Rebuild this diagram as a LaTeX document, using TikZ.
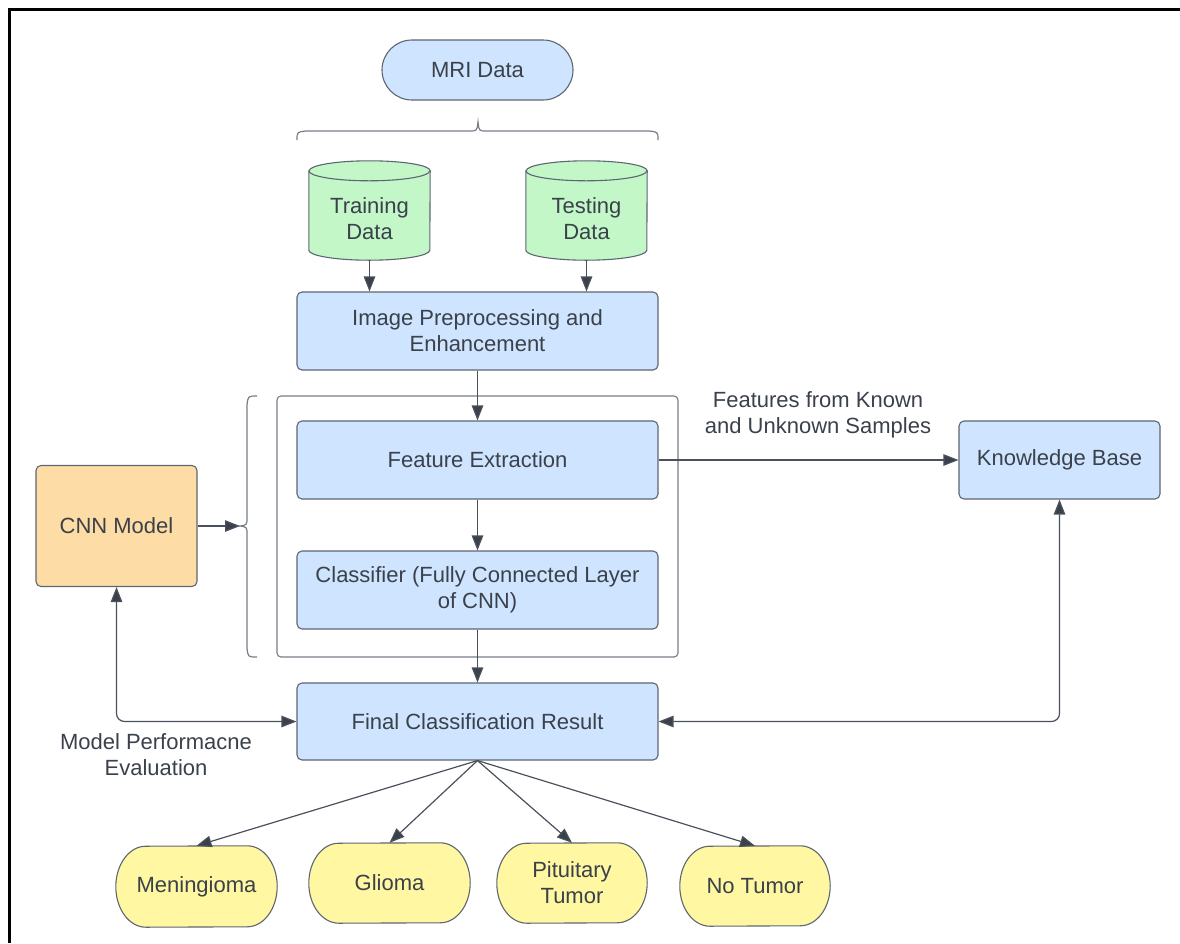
\documentclass[tikz,border=0pt]{standalone}
\usepackage{fontspec}
\setmainfont{Liberation Sans}
\usetikzlibrary{arrows.meta,backgrounds,calc}
\definecolor{txt}{HTML}{3A414A}
\definecolor{bord}{HTML}{5E6672}
\definecolor{lineC}{HTML}{4A515C}
\definecolor{contC}{HTML}{767D87}
\definecolor{lblue}{HTML}{CFE4FF}
\definecolor{lgreen}{HTML}{C3F7C8}
\definecolor{lyellow}{HTML}{FFF7A1}
\definecolor{lorange}{HTML}{FDDCA5}
\newcommand\capshape[2]{%
  \path[draw=bord, fill=lyellow, line width=1.1pt]
    ($(#1.north east)+(-30,0)$) arc[start angle=-90,end angle=90,x radius=30,y radius=#2]
    -- ($(#1.south west)+(30,0)$) arc[start angle=90,end angle=270,x radius=30,y radius=#2]
    -- cycle;}
\newcommand\cylshape[1]{%
  \path[draw=bord, fill=lgreen, line width=1.1pt]
    ($(#1.north west)+(0,10)$) -- ($(#1.south west)+(0,-10)$)
    arc[start angle=180,end angle=0,x radius=60.5,y radius=10]
    -- ($(#1.north east)+(0,10)$)
    arc[start angle=0,end angle=-180,x radius=60.5,y radius=10] -- cycle;
  \draw[bord, line width=1.1pt] ($(#1.north west)+(0,10)$) arc[start angle=180,end angle=0,x radius=60.5,y radius=10];}
\begin{document}
\begin{tikzpicture}[x=1pt,y=-1pt,
  font=\fontsize{22}{26}\selectfont,
  box/.style={draw=bord, fill=lblue, rounded corners=5pt, line width=1.1pt, text=txt,
    align=center, minimum width=361pt, minimum height=78pt, inner sep=0pt},
  plain/.style={text=txt, align=center, inner sep=0pt},
  tip/.tip={Triangle[length=15pt,width=11.5pt,fill=txt]},
  conn/.style={draw=lineC, line width=1.2pt, -tip},
  conn2/.style={draw=lineC, line width=1.2pt, rounded corners=8pt, tip-tip},
  bracestyle/.style={draw=contC, line width=1.2pt},
  shapenode/.style={draw=none, minimum width=#1, inner sep=0pt},
]
\useasboundingbox (0,0) rectangle (1180,943);
\draw[line width=3pt, black] (9.5,943) -- (9.5,9.5) -- (1180,9.5);

% main boxes
\node[box, minimum height=60pt, rounded corners=30pt, minimum width=191pt] (mri) at (477.5,70) {MRI Data};
\node[box] (img) at (477.5,331) {Image Preprocessing and\\Enhancement};
\node[box] (fe) at (477.5,460) {Feature Extraction};
\node[box] (cls) at (477.5,590) {Classifier (Fully Connected Layer\\of CNN)};
\node[box, minimum height=77pt] (fin) at (477.5,721.5) {Final Classification Result};
\node[box, minimum width=201pt] (kb) at (1059.5,460) {Knowledge Base};
\node[box, fill=lorange, minimum width=161pt, minimum height=121pt] (cnn) at (116.5,526) {CNN Model};

% container
\node[draw=contC, rounded corners=4pt, line width=1.1pt, minimum width=401pt,
  minimum height=261pt, inner sep=0pt] (cont) at (477.5,526.5) {};

% cylinders
\node[shapenode=121pt, minimum height=99pt] (tr) at (369.5,210.5) {};
\node[shapenode=121pt, minimum height=99pt] (te) at (586.5,210.5) {};
\begin{scope}[on background layer]
  \cylshape{tr}
  \cylshape{te}
\end{scope}
\node[plain] (trt) at (369.5,218.5) {Training\\Data};
\node[plain] (tet) at (586.5,218.5) {Testing\\Data};

% bottom outcome nodes
\node[shapenode=161pt, minimum height=81pt, plain] (men) at (196.5,886.5) {Meningioma};
\node[shapenode=161pt, minimum height=80pt, plain] (gli) at (389.5,883) {Glioma};
\node[shapenode=150pt, minimum height=80pt, plain] (pit) at (572,883) {Pituitary\\Tumor};
\node[shapenode=150pt, minimum height=80pt, plain] (not) at (755,886) {No Tumor};
\begin{scope}[on background layer]
  \capshape{men}{40.5}
  \capshape{gli}{40}
  \capshape{pit}{40}
  \capshape{not}{40}
\end{scope}

% top brace
\draw[bracestyle] (297,140) .. controls (297,132) .. (306,131) -- (469,131)
  .. controls (477,131) .. (478,122) .. controls (479,131) .. (487,131) -- (649,131)
  .. controls (658,132) .. (658,140);
% left brace
\coordinate (bracetip) at (240,526);
\draw[bracestyle] (257,396) .. controls (248,396) .. (247,405) -- (247,517)
  .. controls (247,525) .. (bracetip) .. controls (247,527) .. (247,535) -- (247,648)
  .. controls (248,657) .. (257,657);

% connectors
\draw[conn] (tr.south) -- (tr.south |- img.north);
\draw[conn] (te.south) -- (te.south |- img.north);
\draw[conn] (img.south) -- (fe.north);
\draw[conn] (fe.south) -- (cls.north);
\draw[conn] (cls.south) -- (fin.north);
\draw[conn] (fe.east) -- (kb.west);
\draw[conn] (cnn.east) -- (bracetip);
\draw[conn2] (cnn.south) |- (fin.west);
\draw[conn2] (kb.south) |- (fin.east);
\draw[conn] (fin.south) -- (men.north);
\draw[conn] (fin.south) -- (gli.north);
\draw[conn] (fin.south) -- (pit.north);
\draw[conn] (fin.south) -- (not.north);

% labels
\node[plain] (featlbl) at (818,414.5) {Features from Known\\and Unknown Samples};
\node[plain] (evallbl) at (156,755) {Model Performacne\\Evaluation};
\end{tikzpicture}
\end{document}
